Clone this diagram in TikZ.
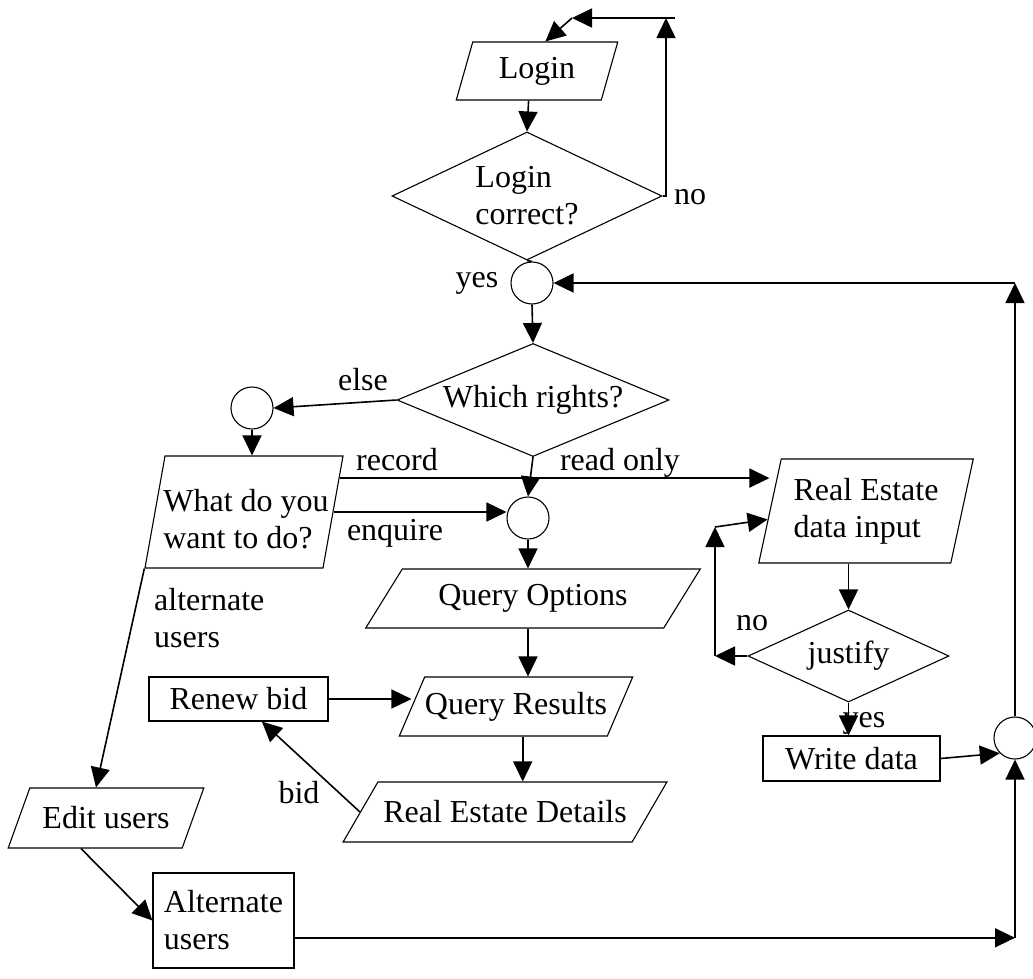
\documentclass[tikz,border=0pt]{standalone}
\usepackage{fontspec}
\setmainfont{Liberation Serif}
\usetikzlibrary{arrows.meta,calc,shapes.geometric}
\tikzset{
  flow/.style={draw=black,line width=1.1pt,inner sep=0pt,font=\fontsize{32}{37}\selectfont},
  iobox/.style={flow,rectangle,transform shape},
  procbox/.style={flow,rectangle,align=left},
  decision/.style={flow,diamond,align=left},
  joint/.style={flow,circle,minimum size=42pt},
  txt/.style={inner sep=0pt,align=left,font=\fontsize{32}{37}\selectfont},
  arr/.style={-{Triangle[length=20pt,width=19pt]},draw=black,line width=1.6pt},
  plain/.style={draw=black,line width=1.6pt}
}
\begin{document}
\begin{tikzpicture}[x=1pt,y=-1pt]
  \useasboundingbox (0,0) rectangle (1033,978);
  \fill[white] (0,0) rectangle (1033,978);

  % input / output shapes
  \node[iobox,xslant=0.284,minimum width=145pt,minimum height=58pt] (login) at (537,71) {};
  \node[txt] (logintxt) at (login) {Login};
  \node[iobox,xslant=0.179,minimum width=178pt,minimum height=112pt] (wdyw) at (244,512) {};
  \node[txt] (wdywtxt) at ($(wdyw)+(2,7)$) {What do you\\want to do?};
  \node[iobox,xslant=0.216,minimum width=192pt,minimum height=104pt] (rdi) at (866,511) {};
  \node[txt] (rditxt) at (rdi) {Real Estate\\data input};
  \node[iobox,xslant=0.62,minimum width=298pt,minimum height=59pt] (qo) at (533,598.5) {};
  \node[txt] (qotxt) at (qo) {Query Options};
  \node[iobox,xslant=0.43,minimum width=208pt,minimum height=59pt] (qr) at (516,706.5) {};
  \node[txt] (qrtxt) at (qr) {Query Results};
  \node[iobox,xslant=0.58,minimum width=289pt,minimum height=60pt] (red) at (505,812) {};
  \node[txt] (redtxt) at (red) {Real Estate Details};
  \node[iobox,xslant=0.36,minimum width=174pt,minimum height=60pt] (edit) at (106,818) {};
  \node[txt] (edittxt) at (edit) {Edit users};

  % decisions
  \node[decision,aspect=2.11,minimum width=270pt,minimum height=128pt] (lc) at (527,196) {Login\\correct?};
  \node[decision,aspect=2.4,minimum width=272pt,minimum height=113pt] (wr) at (533,400) {Which rights?};
  \node[decision,aspect=2.18,minimum width=201pt,minimum height=92pt] (js) at (848.5,656) {justify};

  % processes
  \node[procbox,minimum width=179pt,minimum height=44pt] (rb) at (238.5,699) {Renew bid};
  \node[procbox,minimum width=177pt,minimum height=45pt] (wd) at (851.5,758.5) {Write data};
  \node[procbox,minimum width=141pt,minimum height=95pt] (alt) at (223.5,920.5) {Alternate\\users};

  % connectors
  \node[joint] (c1) at (532,283) {};
  \node[joint] (c2) at (252,408) {};
  \node[joint] (c3) at (528,518) {};
  \node[joint] (c4) at (1015,738) {};

  % labels
  \node[txt] (lno) at (690,197) {no};
  \node[txt] (lyes) at (477,283) {yes};
  \node[txt] (lelse) at (363,380) {else};
  \node[txt] (lrec) at (397,460) {record};
  \node[txt] (lread) at (620,463) {read only};
  \node[txt] (lenq) at (395,533) {enquire};
  \node[txt,anchor=west] (lalt) at (154,618) {alternate\\users};
  \node[txt] (lbid) at (299,793) {bid};
  \node[txt] (jno) at (752,623) {no};
  \node[txt] (jyes) at (864,723) {yes};

  % login loop
  \coordinate (nup) at (666,18);
  \coordinate (nr) at (675,18);
  \coordinate (nl) at (572,18);
  \draw[arr] (lc.east) -| (nup);
  \draw[arr] (nr) -- (nl);
  \draw[arr] (nl) -- (login.north);
  \draw[arr] (login.south) -- (lc.north);
  \draw[plain] (lc.south) -- (c1.north);
  \draw[arr] (c1.south) -- (wr.north);

  % rights
  \draw[arr] (wr.west) -- (c2.east);
  \draw[arr] (c2.south) -- (c2.south |- wdyw.north);
  \draw[arr] (wr.south) -- (c3.north);
  \coordinate (rec) at ($(wdyw.north east)!0.2!(wdyw.south east)$);
  \draw[arr] (rec) -- (rec -| rdi.west);
  \draw[arr] (wdyw.east) -- (wdyw.east -| c3.west);

  % query path
  \draw[arr] (c3.south) -- (c3.south |- qo.north);
  \draw[arr] (c3 |- qo.south) -- (c3 |- qr.north);
  \draw[arr] (qr.south -| red.north) -- (red.north);
  \draw[arr] (rb.east) -- (rb.east -| qr.west);
  \draw[arr] (red.west) -- ($(rb.south west)!0.63!(rb.south east)$);

  % users path
  \draw[arr] (wdyw.south west) -- ($(edit.north west)!0.38!(edit.north east)$);
  \draw[arr] ($(edit.south west)!0.42!(edit.south east)$) -- (alt.west);
  \coordinate (altout) at ($(alt.north east)!0.68!(alt.south east)$);
  \draw[arr] (altout) -- (altout -| c4);
  \draw[arr] (altout -| c4) -- (c4.south);

  % data input loop
  \coordinate (jl) at (715,656);
  \coordinate (jt) at (715,527);
  \draw[arr] (js.west) -- (jl);
  \draw[arr] (jl) -- (jt);
  \draw[arr] (jt) -- ($(rdi.north west)!0.58!(rdi.south west)$);
  \draw[arr] (js.north |- rdi.south) -- (js.north);
  \draw[arr] (js.south) -- (js.south |- wd.north);

  % back to the top
  \draw[arr] (wd.east) -- (c4.225);
  \draw[arr] (c4.north) -- (c4 |- c1);
  \draw[arr] (c4 |- c1) -- (c1.east);
\end{tikzpicture}
\end{document}
